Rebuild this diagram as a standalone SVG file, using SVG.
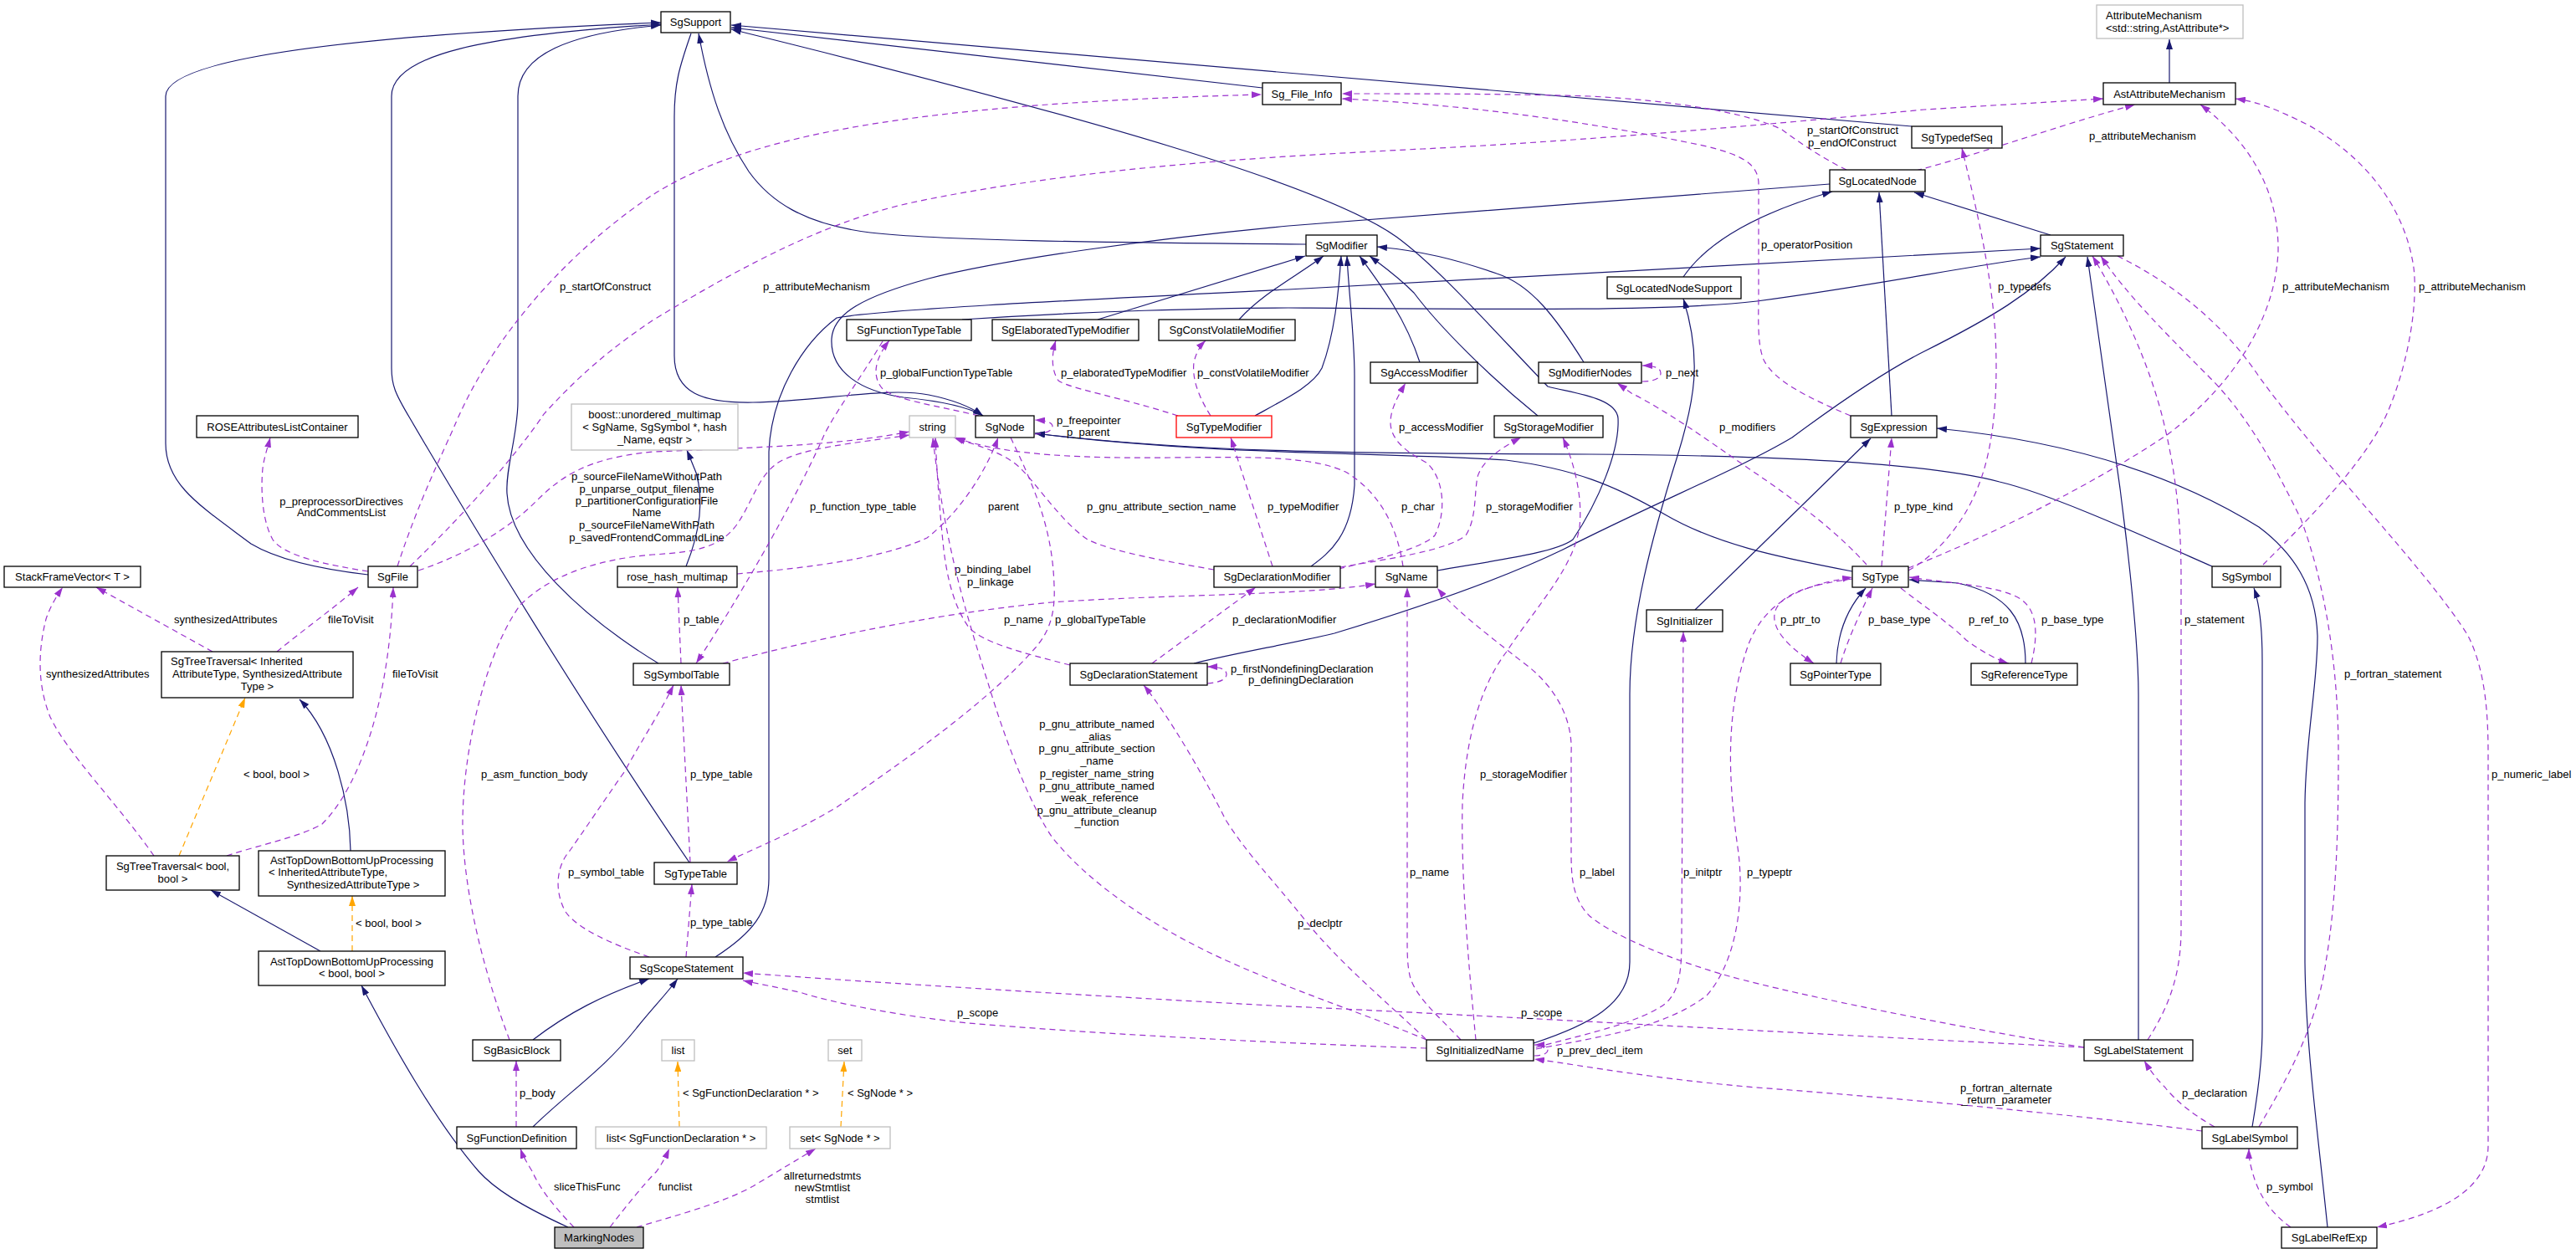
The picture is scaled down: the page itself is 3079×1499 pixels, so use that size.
<svg xmlns="http://www.w3.org/2000/svg" width="3079" height="1499" viewBox="0 0 3079 1499">
<style>
text{font-family:"Liberation Sans",Arial,Helvetica,sans-serif;font-size:13px;fill:#000}
.m{text-anchor:middle}
.n rect{fill:#fff;stroke:#000;stroke-width:1.3}
.g rect{fill:#fff;stroke:#bfbfbf;stroke-width:1.3}
.r rect{fill:#fff;stroke:#ff0000;stroke-width:1.3}
.k rect{fill:#bfbfbf;stroke:#000;stroke-width:1.3}
#edges path{fill:none;stroke-width:1.2}
#edges .i{stroke:#191970;marker-end:url(#ai)}
#edges .u{stroke:#9a32cd;stroke-dasharray:7,5;marker-end:url(#au)}
#edges .t{stroke:#ffa500;stroke-dasharray:7,5;marker-end:url(#at)}
</style>
<defs>
<marker id="ai" viewBox="0 0 12 8" refX="12" refY="4" markerWidth="12" markerHeight="8" markerUnits="userSpaceOnUse" orient="auto"><path d="M0,0 L12,4 L0,8 z" fill="#191970"/></marker>
<marker id="au" viewBox="0 0 12 8" refX="12" refY="4" markerWidth="12" markerHeight="8" markerUnits="userSpaceOnUse" orient="auto"><path d="M0,0 L12,4 L0,8 z" fill="#9a32cd"/></marker>
<marker id="at" viewBox="0 0 12 8" refX="12" refY="4" markerWidth="12" markerHeight="8" markerUnits="userSpaceOnUse" orient="auto"><path d="M0,0 L12,4 L0,8 z" fill="#ffa500"/></marker>
</defs>
<rect width="3079" height="1499" fill="#fff"/>
<g id="edges">
<!-- inheritance -->
<path class="i" d="M440,687 C380,680 330,668 300,650 C240,605 198,580 198,530 L198,115 C198,70 420,42 790,27"/>
<path class="i" d="M824,1031 C700,850 560,620 490,500 C472,470 468,460 468,440 L468,115 C468,65 580,42 790,29"/>
<path class="i" d="M787,793 C700,740 610,660 606,590 C604,560 619,520 619,480 L619,115 C619,65 680,40 790,30"/>
<path class="i" d="M826,40 C812,80 806,100 806,140 L806,425 C806,470 840,482 900,481 C980,480 1060,462 1110,472 C1140,478 1160,486 1175,497"/>
<path class="i" d="M1561,292 C1300,290 1120,287 1040,278 C960,268 920,240 895,205 C865,160 848,110 835,40"/>
<path class="i" d="M1509,105 L874,33"/>
<path class="i" d="M2285,151 L874,30"/>
<path class="i" d="M1718,682 C1800,668 1860,660 1880,645 C1910,600 1936,540 1934,500 C1932,475 1880,470 1850,462 C1790,400 1720,320 1669,283 C1580,220 1300,140 874,35"/>
<path class="i" d="M2187,220 L1540,270 C1380,285 1200,310 1110,333 C1030,355 996,375 994,405 C992,445 1030,468 1080,475 C1130,480 1160,488 1175,497"/>
<path class="i" d="M855,1144 C900,1115 919,1090 919,1050 L919,540 C922,470 960,410 1000,380 C1050,370 1300,358 1540,346 L2439,297"/>
<path class="i" d="M1150,382 C1300,372 1450,368 1540,368 C1800,370 2000,372 2100,360 C2250,340 2350,318 2439,307"/>
<path class="i" d="M1427,793 C1480,780 1540,770 1595,757 C1700,725 1800,690 1868,657 C1980,600 2080,560 2142,523 C2200,480 2260,440 2300,420 C2380,380 2430,350 2469,307"/>
<path class="i" d="M2556,1243 L2556,830 C2556,760 2540,620 2525,520 L2495,307"/>
<path class="i" d="M2451,281 L2288,230"/>
<path class="i" d="M2261,497 L2246,230"/>
<path class="i" d="M2012,331 C2040,290 2100,255 2190,229"/>
<path class="i" d="M1312,382 L1560,306"/>
<path class="i" d="M1481,382 C1510,350 1550,330 1582,306"/>
<path class="i" d="M1500,497 C1540,475 1570,460 1580,440 C1595,400 1600,350 1603,306"/>
<path class="i" d="M1567,677 C1590,660 1615,640 1619,580 L1619,450 C1619,400 1612,350 1610,306"/>
<path class="i" d="M1697,433 C1680,380 1650,340 1625,306"/>
<path class="i" d="M1838,497 C1780,450 1720,390 1690,350 C1670,330 1650,316 1637,306"/>
<path class="i" d="M1893,433 C1860,380 1830,340 1789,327 C1740,310 1700,300 1646,295"/>
<path class="i" d="M1833,1247 C1900,1225 1948,1200 1948,1150 L1948,830 C1948,740 1975,640 2005,545 C2025,480 2035,430 2012,357"/>
<path class="i" d="M2026,729 L2236,524"/>
<path class="i" d="M2214,683 C2120,665 2050,650 1990,615 C1930,580 1880,560 1800,550 C1650,540 1450,545 1237,518"/>
<path class="i" d="M2644,677 C2560,640 2450,590 2390,576 C2330,560 2200,545 1900,543 C1600,542 1420,540 1237,518"/>
<path class="i" d="M2195,793 C2196,760 2205,730 2230,703"/>
<path class="i" d="M2421,793 C2421,740 2400,710 2340,697 L2282,693"/>
<path class="i" d="M2692,1347 C2700,1300 2704,1260 2704,1230 L2704,790 C2704,750 2700,720 2694,703"/>
<path class="i" d="M2782,1467 C2770,1350 2756,1250 2755,1150 L2755,960 C2756,880 2770,820 2770,760 C2768,700 2740,660 2700,630 C2620,580 2500,530 2315,512"/>
<path class="i" d="M637,1243 C680,1210 720,1190 776,1170"/>
<path class="i" d="M637,1347 C680,1305 720,1280 760,1230 C780,1205 795,1190 810,1170"/>
<path class="i" d="M679,1467 C620,1440 590,1420 572,1400 C520,1340 470,1250 432,1178"/>
<path class="i" d="M383,1137 L252,1064"/>
<path class="i" d="M419,1017 C418,960 400,880 358,836"/>
<path class="i" d="M2593,99 L2593,47"/>
<path class="i" d="M820,677 C835,640 842,600 832,565 L821,538"/>
<!-- template -->
<path class="t" d="M421,1137 L421,1071"/>
<text x="425" y="1107.5">&lt; bool, bool &gt;</text>
<path class="t" d="M214,1023 L293,834"/>
<text x="291" y="929.5">&lt; bool, bool &gt;</text>
<path class="t" d="M812,1347 L810,1269"/>
<text x="816" y="1311">&lt; SgFunctionDeclaration * &gt;</text>
<path class="t" d="M1005,1347 L1009,1269"/>
<text x="1013" y="1311">&lt; SgNode * &gt;</text>
<!-- usage -->
<path class="u" d="M475,677 C500,600 530,540 545,505 C590,400 680,300 780,233 C880,170 1050,125 1508,113"/>
<text x="669" y="347">p_startOfConstruct</text>
<path class="u" d="M490,677 C560,610 620,540 650,495 C700,440 740,410 780,383 C900,310 1000,260 1100,240 C1300,200 1500,188 1700,178 C1900,168 2100,150 2300,131 L2514,118"/>
<text x="912" y="347">p_attributeMechanism</text>
<path class="u" d="M440,683 C390,675 340,665 326,645 C312,620 312,580 314,560 C316,545 320,535 323,523"/>
<text class="m" x="408" y="603.5">p_preprocessorDirectives</text>
<text class="m" x="408" y="617">AndCommentsList</text>
<path class="u" d="M500,682 C560,662 610,630 640,600 C670,570 700,548 780,540 C900,535 1000,533 1087,516"/>
<text class="m" x="773" y="573.5">p_sourceFileNameWithoutPath</text>
<text class="m" x="773" y="588.5">p_unparse_output_filename</text>
<text class="m" x="773" y="603">p_partitionerConfigurationFile</text>
<text class="m" x="773" y="617">Name</text>
<text class="m" x="773" y="632">p_sourceFileNameWithPath</text>
<text class="m" x="773" y="647">p_savedFrontendCommandLine</text>
<path class="u" d="M609,1243 C585,1180 555,1080 553,990 C552,900 580,780 622,723 C660,685 720,668 780,663 C830,660 860,655 880,628 C900,600 905,570 930,553 C960,535 1020,530 1087,520"/>
<text x="575" y="929.5">p_asm_function_body</text>
<path class="u" d="M881,686 C950,680 1050,670 1108,643 C1150,610 1180,560 1193,523"/>
<text x="1181" y="610">parent</text>
<path class="u" d="M814,793 L810,702"/>
<text x="817" y="745">p_table</text>
<path class="u" d="M864,793 C950,770 1100,735 1257,720 C1400,710 1560,712 1644,698"/>
<text x="1200" y="745">p_name</text>
<path class="u" d="M776,1144 C730,1128 690,1110 676,1090 C662,1065 665,1035 681,1017 C700,990 720,960 746,923 C770,880 790,850 805,819"/>
<text x="679" y="1047">p_symbol_table</text>
<path class="u" d="M825,1031 L814,819"/>
<text x="825" y="929.5">p_type_table</text>
<path class="u" d="M820,1144 L827,1057"/>
<text x="825" y="1107">p_type_table</text>
<path class="u" d="M1208,523 C1235,580 1258,630 1260,700 C1262,740 1250,760 1237,775 C1180,840 1080,910 1000,965 C950,995 900,1015 869,1030"/>
<text x="1261" y="745">p_globalTypeTable</text>
<path class="u" d="M1170,497 C1120,485 1070,478 1055,465 C1042,450 1045,430 1063,407"/>
<text x="1052" y="449.5">p_globalFunctionTypeTable</text>
<path class="u" d="M1055,408 C1030,450 1000,490 985,520 C950,600 880,720 832,793"/>
<text x="968" y="610">p_function_type_table</text>
<path class="u" d="M1237,519 C1252,518 1258,514 1258,510 C1258,505 1252,503 1237,502"/>
<text x="1263" y="507">p_freepointer</text>
<text x="1275" y="521">p_parent</text>
<path class="u" d="M1408,497 C1340,475 1280,465 1265,455 C1255,440 1258,420 1262,407"/>
<text x="1268" y="449.5">p_elaboratedTypeModifier</text>
<path class="u" d="M1447,497 C1430,470 1425,450 1427,433 C1430,420 1436,412 1441,407"/>
<text x="1431" y="449.5">p_constVolatileModifier</text>
<path class="u" d="M1521,677 L1471,523"/>
<text x="1515" y="610">p_typeModifier</text>
<path class="u" d="M1600,680 C1650,668 1700,655 1715,640 C1730,610 1725,570 1705,553 C1680,540 1662,525 1662,505 C1662,490 1670,475 1680,458"/>
<text x="1672" y="514.5">p_accessModifier</text>
<path class="u" d="M1602,678 C1660,668 1730,658 1752,640 C1765,620 1762,590 1766,570 C1772,550 1795,535 1818,523"/>
<text x="1776" y="610">p_storageModifier</text>
<path class="u" d="M1451,681 C1400,672 1330,660 1300,645 C1270,625 1240,580 1220,560 C1200,540 1165,532 1140,523"/>
<text x="1299" y="610">p_gnu_attribute_section_name</text>
<path class="u" d="M1677,677 C1670,630 1650,590 1610,565 C1570,545 1500,546 1400,547 C1300,548 1200,545 1142,523"/>
<text x="1675" y="610">p_char</text>
<path class="u" d="M1377,793 L1501,702"/>
<text x="1473" y="745">p_declarationModifier</text>
<path class="u" d="M1279,795 C1220,780 1175,768 1158,750 C1140,725 1132,690 1128,657 C1124,620 1120,570 1118,523"/>
<text x="1141" y="685">p_binding_label</text>
<text x="1156" y="700">p_linkage</text>
<path class="u" d="M1443,817 C1458,816 1466,812 1466,806 C1466,800 1458,797 1443,797"/>
<text x="1471" y="803.5">p_firstNondefiningDeclaration</text>
<text x="1492" y="817">p_definingDeclaration</text>
<path class="u" d="M1705,1243 C1640,1215 1560,1190 1470,1150 C1380,1110 1300,1055 1257,1000 C1230,960 1200,880 1183,823 C1160,750 1130,660 1115,523"/>
<text class="m" x="1311" y="870">p_gnu_attribute_named</text>
<text class="m" x="1311" y="885">_alias</text>
<text class="m" x="1311" y="899">p_gnu_attribute_section</text>
<text class="m" x="1311" y="914">_name</text>
<text class="m" x="1311" y="929">p_register_name_string</text>
<text class="m" x="1311" y="943.5">p_gnu_attribute_named</text>
<text class="m" x="1311" y="958">_weak_reference</text>
<text class="m" x="1311" y="973">p_gnu_attribute_cleanup</text>
<text class="m" x="1311" y="987">_function</text>
<path class="u" d="M1746,1243 C1720,1215 1695,1195 1686,1170 C1682,1155 1682,1140 1682,1120 L1682,702"/>
<text x="1685" y="1047">p_name</text>
<path class="u" d="M1764,1243 C1756,1160 1746,1050 1748,960 C1752,880 1770,820 1800,780 C1840,720 1880,680 1888,630 C1892,590 1880,550 1868,523"/>
<text x="1769" y="929.5">p_storageModifier</text>
<path class="u" d="M2491,1252 C2350,1230 2150,1190 2067,1167 C2000,1148 1930,1120 1900,1095 C1880,1075 1878,1050 1878,1020 L1878,900 C1880,860 1860,820 1818,790 C1780,760 1740,730 1718,703"/>
<text x="1888" y="1047">p_label</text>
<path class="u" d="M1836,1252 C1900,1235 1960,1222 1990,1200 C2008,1185 2010,1160 2010,1120 L2012,755"/>
<text x="2012" y="1047">p_initptr</text>
<path class="u" d="M1836,1254 C1920,1238 1990,1228 2040,1190 C2075,1150 2085,1080 2078,1020 C2065,930 2062,850 2090,770 C2110,720 2150,700 2214,690"/>
<text x="2088" y="1047">p_typeptr</text>
<path class="u" d="M1834,1262 C1846,1262 1850,1258 1850,1255 C1850,1251 1846,1249 1834,1249"/>
<text x="1861" y="1259.5">p_prev_decl_item</text>
<path class="u" d="M1705,1253 C1500,1246 1300,1235 1158,1223 C1080,1215 1000,1200 959,1187 C930,1180 900,1175 888,1172"/>
<text x="1144" y="1214.5">p_scope</text>
<path class="u" d="M2491,1252 C2200,1238 1800,1215 1520,1202 C1300,1190 1050,1175 888,1163"/>
<text x="1818" y="1214.5">p_scope</text>
<path class="u" d="M1704,1242 C1660,1200 1600,1150 1560,1100 C1520,1050 1490,1020 1465,980 C1440,930 1400,860 1367,819"/>
<text x="1551" y="1107.5">p_declptr</text>
<path class="u" d="M2632,1352 C2500,1335 2300,1315 2100,1300 C1980,1290 1900,1275 1834,1266"/>
<text class="m" x="2398" y="1304.5">p_fortran_alternate</text>
<text class="m" x="2398" y="1319">_return_parameter</text>
<path class="u" d="M2647,1347 C2620,1332 2600,1315 2588,1300 C2578,1290 2570,1280 2563,1268"/>
<text x="2608" y="1311">p_declaration</text>
<path class="u" d="M2738,1467 C2710,1447 2698,1423 2692,1400 C2689,1390 2688,1382 2688,1373"/>
<text x="2709" y="1422.5">p_symbol</text>
<path class="u" d="M2531,306 C2600,340 2660,390 2700,450 C2780,560 2900,680 2950,760 C2970,800 2974,850 2974,900 L2974,1370 C2974,1420 2920,1450 2841,1467"/>
<text x="2978" y="929.5">p_numeric_label</text>
<path class="u" d="M2700,1347 C2740,1280 2770,1220 2780,1150 C2792,1080 2795,1000 2795,900 C2795,800 2780,700 2750,620 C2720,560 2690,500 2640,450 C2590,400 2540,350 2511,306"/>
<text x="2802" y="810">p_fortran_statement</text>
<path class="u" d="M2567,1243 C2595,1200 2607,1160 2607,1110 L2607,690 C2607,620 2600,560 2585,500 C2570,440 2540,370 2501,306"/>
<text x="2611" y="745">p_statement</text>
<path class="u" d="M2290,204 C2380,180 2460,150 2552,125"/>
<text x="2497" y="167">p_attributeMechanism</text>
<path class="u" d="M2281,679 C2380,640 2500,580 2590,520 C2670,460 2720,380 2723,300 C2724,230 2690,170 2630,125"/>
<text x="2728" y="347">p_attributeMechanism</text>
<path class="u" d="M2705,675 C2760,620 2830,550 2855,490 C2880,430 2890,360 2885,320 C2875,250 2830,190 2760,150 C2720,130 2700,122 2672,118"/>
<text x="2891" y="347">p_attributeMechanism</text>
<path class="u" d="M2281,682 C2320,660 2350,620 2365,580 C2385,530 2388,460 2385,400 C2380,320 2360,240 2345,177"/>
<text x="2388" y="347">p_typedefs</text>
<path class="u" d="M2249,677 L2261,523"/>
<text x="2264" y="610">p_type_kind</text>
<path class="u" d="M2231,675 C2200,640 2150,600 2090,560 C2040,525 1990,490 1950,470 L1933,458"/>
<text x="2055" y="514.5">p_modifiers</text>
<path class="u" d="M1963,456 C1978,456 1985,452 1985,446 C1985,440 1978,437 1963,437"/>
<text x="1991" y="449.5">p_next</text>
<path class="u" d="M2214,692 C2170,698 2130,708 2122,730 C2115,752 2140,775 2168,793"/>
<text x="2128" y="745">p_ptr_to</text>
<path class="u" d="M2200,793 C2210,760 2225,730 2238,703"/>
<text x="2233" y="745">p_base_type</text>
<path class="u" d="M2272,703 C2300,725 2330,745 2350,765 C2370,780 2390,790 2401,793"/>
<text x="2353" y="745">p_ref_to</text>
<path class="u" d="M2428,793 C2436,760 2436,730 2415,716 C2390,700 2330,697 2282,690"/>
<text x="2440" y="745">p_base_type</text>
<path class="u" d="M2212,497 C2160,475 2120,455 2108,430 C2100,410 2102,380 2102,350 L2102,220 C2102,195 2080,185 2040,175 C1900,145 1750,125 1604,118"/>
<text x="2105" y="297">p_operatorPosition</text>
<path class="u" d="M2207,203 C2180,190 2150,170 2130,155 C2090,135 2000,120 1900,115 C1800,112 1700,112 1604,112"/>
<text x="2160" y="160">p_startOfConstruct</text>
<text x="2161" y="175">p_endOfConstruct</text>
<path class="u" d="M254,779 L115,702"/>
<text x="208" y="745">synthesizedAttributes</text>
<path class="u" d="M184,1023 C140,960 80,900 60,857 C45,820 45,780 55,740 C60,725 68,712 75,702"/>
<text x="55" y="810">synthesizedAttributes</text>
<path class="u" d="M331,779 C360,755 395,730 428,702"/>
<text x="392" y="745">fileToVisit</text>
<path class="u" d="M271,1023 C310,1010 360,1000 385,985 C410,960 430,920 445,870 C460,820 468,760 470,702"/>
<text x="469" y="810">fileToVisit</text>
<path class="u" d="M686,1467 C660,1440 645,1420 636,1400 C630,1390 625,1382 622,1373"/>
<text x="662" y="1422.5">sliceThisFunc</text>
<path class="u" d="M729,1467 C750,1440 770,1415 785,1400 C792,1390 797,1380 800,1373"/>
<text x="787" y="1422.5">funclist</text>
<path class="u" d="M761,1467 C800,1455 860,1440 900,1418 C930,1400 955,1385 975,1373"/>
<text class="m" x="983" y="1409.5">allreturnedstmts</text>
<text class="m" x="983" y="1423.5">newStmtlist</text>
<text class="m" x="983" y="1438">stmtlist</text>
<path class="u" d="M617,1347 L617,1268"/>
<text x="621" y="1311">p_body</text>
</g>
<g id="nodes">
<g id="SgSupport" class="n"><rect x="790" y="14" width="83" height="25"/><text class="m" x="831.5" y="31">SgSupport</text></g>
<g id="AttributeMechanism" class="g"><rect x="2506" y="6" width="175" height="40"/><text x="2517" y="23">AttributeMechanism</text><text x="2517" y="37.5">&lt;std::string,AstAttribute*&gt;</text></g>
<g id="AstAttributeMechanism" class="n"><rect x="2514" y="99" width="158" height="26"/><text class="m" x="2593" y="116.5">AstAttributeMechanism</text></g>
<g id="Sg_File_Info" class="n"><rect x="1509" y="99" width="94" height="26"/><text class="m" x="1556" y="116.5">Sg_File_Info</text></g>
<g id="SgTypedefSeq" class="n"><rect x="2285" y="151" width="108" height="26"/><text class="m" x="2339" y="168.5">SgTypedefSeq</text></g>
<g id="SgLocatedNode" class="n"><rect x="2187" y="203" width="114" height="26"/><text class="m" x="2244" y="220.5">SgLocatedNode</text></g>
<g id="SgModifier" class="n"><rect x="1561" y="281" width="85" height="25"/><text class="m" x="1603.5" y="298">SgModifier</text></g>
<g id="SgStatement" class="n"><rect x="2439" y="281" width="99" height="25"/><text class="m" x="2488.5" y="298">SgStatement</text></g>
<g id="SgLocatedNodeSupport" class="n"><rect x="1921" y="331" width="160" height="26"/><text class="m" x="2001" y="348.5">SgLocatedNodeSupport</text></g>
<g id="SgFunctionTypeTable" class="n"><rect x="1012" y="382" width="149" height="25"/><text class="m" x="1086.5" y="399">SgFunctionTypeTable</text></g>
<g id="SgElaboratedTypeModifier" class="n"><rect x="1186" y="382" width="175" height="25"/><text class="m" x="1273.5" y="399">SgElaboratedTypeModifier</text></g>
<g id="SgConstVolatileModifier" class="n"><rect x="1385" y="382" width="163" height="25"/><text class="m" x="1466.5" y="399">SgConstVolatileModifier</text></g>
<g id="SgAccessModifier" class="n"><rect x="1638" y="433" width="128" height="25"/><text class="m" x="1702" y="450">SgAccessModifier</text></g>
<g id="SgModifierNodes" class="n"><rect x="1839" y="433" width="123" height="25"/><text class="m" x="1900.5" y="450">SgModifierNodes</text></g>
<g id="boost_unordered_multimap" class="g"><rect x="683" y="483" width="199" height="55"/><text class="m" x="782.5" y="499.5">boost::unordered_multimap</text><text class="m" x="782.5" y="514.5">&lt; SgName, SgSymbol *, hash</text><text class="m" x="782.5" y="529.5">_Name, eqstr &gt;</text></g>
<g id="string" class="g"><rect x="1087" y="497" width="55" height="26"/><text class="m" x="1114.5" y="514.5">string</text></g>
<g id="SgNode" class="n"><rect x="1166" y="497" width="70" height="26"/><text class="m" x="1201" y="514.5">SgNode</text></g>
<g id="SgTypeModifier" class="r"><rect x="1406" y="497" width="114" height="26"/><text class="m" x="1463" y="514.5">SgTypeModifier</text></g>
<g id="SgStorageModifier" class="n"><rect x="1786" y="497" width="130" height="26"/><text class="m" x="1851" y="514.5">SgStorageModifier</text></g>
<g id="SgExpression" class="n"><rect x="2212" y="497" width="103" height="26"/><text class="m" x="2263.5" y="514.5">SgExpression</text></g>
<g id="ROSEAttributesListContainer" class="n"><rect x="235" y="497" width="193" height="26"/><text class="m" x="331.5" y="514.5">ROSEAttributesListContainer</text></g>
<g id="StackFrameVector" class="n"><rect x="5" y="677" width="163" height="25"/><text class="m" x="86.5" y="694">StackFrameVector&lt; T &gt;</text></g>
<g id="SgFile" class="n"><rect x="440" y="677" width="59" height="25"/><text class="m" x="469.5" y="694">SgFile</text></g>
<g id="rose_hash_multimap" class="n"><rect x="738" y="677" width="143" height="25"/><text class="m" x="809.5" y="694">rose_hash_multimap</text></g>
<g id="SgDeclarationModifier" class="n"><rect x="1451" y="677" width="151" height="25"/><text class="m" x="1526.5" y="694">SgDeclarationModifier</text></g>
<g id="SgName" class="n"><rect x="1644" y="677" width="74" height="25"/><text class="m" x="1681" y="694">SgName</text></g>
<g id="SgType" class="n"><rect x="2214" y="677" width="67" height="25"/><text class="m" x="2247.5" y="694">SgType</text></g>
<g id="SgSymbol" class="n"><rect x="2644" y="677" width="82" height="25"/><text class="m" x="2685" y="694">SgSymbol</text></g>
<g id="SgInitializer" class="n"><rect x="1968" y="729" width="91" height="26"/><text class="m" x="2013.5" y="746.5">SgInitializer</text></g>
<g id="SgTreeTraversal_Inherited" class="n"><rect x="193" y="779" width="229" height="55"/><text x="204" y="794.5">SgTreeTraversal&lt; Inherited</text><text class="m" x="307.5" y="809.5">AttributeType, SynthesizedAttribute</text><text class="m" x="307.5" y="825">Type &gt;</text></g>
<g id="SgSymbolTable" class="n"><rect x="757" y="793" width="115" height="26"/><text class="m" x="814.5" y="810.5">SgSymbolTable</text></g>
<g id="SgDeclarationStatement" class="n"><rect x="1279" y="793" width="164" height="26"/><text class="m" x="1361" y="810.5">SgDeclarationStatement</text></g>
<g id="SgPointerType" class="n"><rect x="2140" y="793" width="108" height="26"/><text class="m" x="2194" y="810.5">SgPointerType</text></g>
<g id="SgReferenceType" class="n"><rect x="2356" y="793" width="127" height="26"/><text class="m" x="2419.5" y="810.5">SgReferenceType</text></g>
<g id="SgTreeTraversal_bool" class="n"><rect x="127" y="1023" width="159" height="41"/><text class="m" x="206.5" y="1039.5">SgTreeTraversal&lt; bool,</text><text class="m" x="206.5" y="1054.5">bool &gt;</text></g>
<g id="AstTopDownBottomUpProcessing_Inherited" class="n"><rect x="309" y="1017" width="223" height="54"/><text class="m" x="420.5" y="1032.5">AstTopDownBottomUpProcessing</text><text x="321" y="1047">&lt; InheritedAttributeType,</text><text class="m" x="422" y="1062">SynthesizedAttributeType &gt;</text></g>
<g id="SgTypeTable" class="n"><rect x="782" y="1031" width="99" height="26"/><text class="m" x="831.5" y="1048.5">SgTypeTable</text></g>
<g id="AstTopDownBottomUpProcessing_bool" class="n"><rect x="309" y="1137" width="223" height="41"/><text class="m" x="420.5" y="1153.5">AstTopDownBottomUpProcessing</text><text class="m" x="420.5" y="1168">&lt; bool, bool &gt;</text></g>
<g id="SgScopeStatement" class="n"><rect x="753" y="1144" width="135" height="26"/><text class="m" x="820.5" y="1161.5">SgScopeStatement</text></g>
<g id="SgBasicBlock" class="n"><rect x="565" y="1243" width="105" height="25"/><text class="m" x="617.5" y="1260">SgBasicBlock</text></g>
<g id="list" class="g"><rect x="791" y="1243" width="39" height="25"/><text class="m" x="810.5" y="1260">list</text></g>
<g id="set" class="g"><rect x="990" y="1243" width="40" height="25"/><text class="m" x="1010" y="1260">set</text></g>
<g id="SgInitializedName" class="n"><rect x="1705" y="1243" width="128" height="25"/><text class="m" x="1769" y="1260">SgInitializedName</text></g>
<g id="SgLabelStatement" class="n"><rect x="2491" y="1243" width="130" height="25"/><text class="m" x="2556" y="1260">SgLabelStatement</text></g>
<g id="SgFunctionDefinition" class="n"><rect x="546" y="1347" width="143" height="26"/><text class="m" x="617.5" y="1364.5">SgFunctionDefinition</text></g>
<g id="list_SgFunctionDeclaration" class="g"><rect x="712" y="1347" width="204" height="26"/><text class="m" x="814" y="1364.5">list&lt; SgFunctionDeclaration * &gt;</text></g>
<g id="set_SgNode" class="g"><rect x="944" y="1347" width="120" height="26"/><text class="m" x="1004" y="1364.5">set&lt; SgNode * &gt;</text></g>
<g id="SgLabelSymbol" class="n"><rect x="2632" y="1347" width="114" height="26"/><text class="m" x="2689" y="1364.5">SgLabelSymbol</text></g>
<g id="MarkingNodes" class="k"><rect x="663" y="1467" width="106" height="25"/><text class="m" x="716" y="1484">MarkingNodes</text></g>
<g id="SgLabelRefExp" class="n"><rect x="2727" y="1467" width="114" height="25"/><text class="m" x="2784" y="1484">SgLabelRefExp</text></g>
</g>
</svg>
